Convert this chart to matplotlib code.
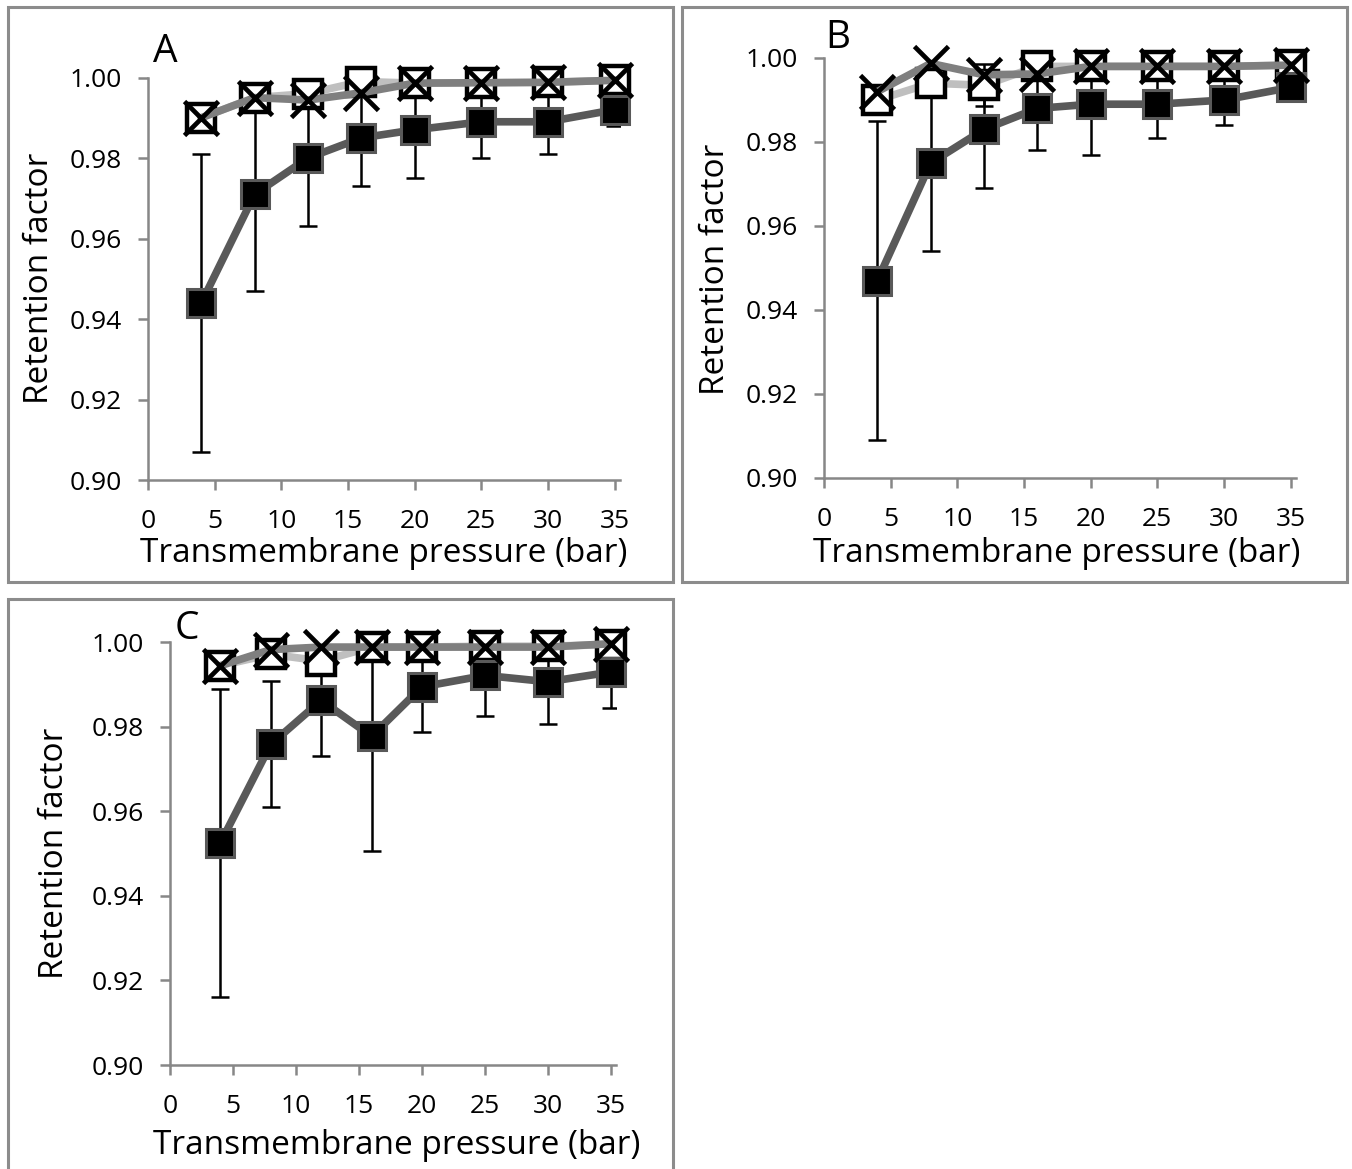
"""
Retention factor vs transmembrane pressure, three panels (A, B, C).
"""

import matplotlib
matplotlib.use("Agg")
import matplotlib.pyplot as plt
from matplotlib.patches import Rectangle

plt.rcParams['font.family'] = ['Open Sans', 'DejaVu Sans']

W, H = 1352, 1169

pressure = [4, 8, 12, 16, 20, 25, 30, 35]
x_ticks = [0, 5, 10, 15, 20, 25, 30, 35]
y_ticks = [0.90, 0.92, 0.94, 0.96, 0.98, 1.00]

# panel A
A_filled = [0.944, 0.971, 0.980, 0.985, 0.987, 0.989, 0.989, 0.992]
A_filled_err = [0.037, 0.024, 0.017, 0.012, 0.012, 0.009, 0.008, 0.004]
A_open = [0.990, 0.995, 0.996, 0.999, 0.9986, 0.9987, 0.9988, 0.9993]
A_open_err = [0.002, 0.002, 0.003, 0.003, 0.002, 0.002, 0.002, 0.001]
A_cross = [0.990, 0.995, 0.9944, 0.9962, 0.9986, 0.9987, 0.9988, 0.9993]

# panel B
B_filled = [0.947, 0.975, 0.983, 0.988, 0.989, 0.989, 0.990, 0.993]
B_filled_err = [0.038, 0.021, 0.014, 0.010, 0.012, 0.008, 0.006, 0.002]
B_open = [0.990, 0.994, 0.9935, 0.998, 0.998, 0.998, 0.998, 0.9983]
B_open_err = [0.002, 0.003, 0.005, 0.003, 0.002, 0.002, 0.002, 0.001]
B_cross = [0.992, 0.9987, 0.996, 0.9962, 0.998, 0.998, 0.998, 0.9983]

# panel C
C_filled = [0.9525, 0.9758, 0.9862, 0.9777, 0.9894, 0.9921, 0.9906, 0.9929]
C_filled_err = [0.0364, 0.0149, 0.0132, 0.0271, 0.0107, 0.0097, 0.0099, 0.0085]
C_open = [0.9944, 0.9971, 0.9955, 0.9988, 0.9988, 0.999, 0.999, 0.9994]
C_open_err = [0.002, 0.002, 0.003, 0.002, 0.002, 0.002, 0.002, 0.001]
C_cross = [0.9944, 0.9982, 0.9988, 0.9988, 0.9988, 0.9988, 0.9988, 0.9996]

GREY_AXIS = '#878787'
GREY_FRAME = '#8c8c8c'


def fx(px):
    return px / W


def fy(py):
    return 1 - py / H


def draw_panel(fig, box, filled, filled_err, opened, open_err, cross, letter,
               letter_xy, xlabel_xy, ylabel_xy):
    x0, y0, x1, y1 = box   # pixel coords of plot area (x of 0 / right end, y of 1.00 / 0.90)
    ax = fig.add_axes([fx(x0), fy(y1), fx(x1 - x0), (y1 - y0) / H])

    # error bars are clipped to the plot area, like the original
    err_kw = dict(fmt='none', ecolor='black', elinewidth=1.8, capsize=6.5,
                  capthick=1.8)
    ax.errorbar(pressure, filled, yerr=filled_err, zorder=1.5, **err_kw)
    ax.errorbar(pressure, opened, yerr=open_err, zorder=1.6, **err_kw)

    ax.plot(pressure, opened, color='#bfbfbf', lw=5.5, marker='s', ms=20,
            mfc='white', mec='black', mew=3.2, zorder=2, clip_on=False)
    ax.plot(pressure, filled, color='#595959', lw=5.5, marker='s', ms=20,
            mfc='black', mec='#595959', mew=2.2, zorder=3, clip_on=False)
    ax.plot(pressure, cross, color='#7f7f7f', lw=5.5, marker='x', ms=25,
            mec='black', mew=3.4, zorder=4, clip_on=False)

    ax.set_xlim(0, 35.4)
    ax.set_ylim(0.90, 1.00)
    ax.set_xticks(x_ticks)
    ax.set_yticks(y_ticks)
    ax.set_yticklabels([f'{v:.2f}' for v in y_ticks])
    for s in ('top', 'right'):
        ax.spines[s].set_visible(False)
    for s in ('left', 'bottom'):
        ax.spines[s].set_color(GREY_AXIS)
        ax.spines[s].set_linewidth(1.8)
    ax.tick_params(axis='both', direction='out', length=7, width=1.8,
                   color=GREY_AXIS, labelsize=19, labelcolor='black')
    ax.tick_params(axis='y', pad=12)
    ax.tick_params(axis='x', pad=14)

    fig.text(fx(letter_xy[0]), fy(letter_xy[1]), letter, fontsize=28,
             ha='center', va='center')
    fig.text(fx(xlabel_xy[0]), fy(xlabel_xy[1]), 'Transmembrane pressure (bar)',
             fontsize=24, ha='center', va='center')
    fig.text(fx(ylabel_xy[0]), fy(ylabel_xy[1]), 'Retention factor',
             fontsize=24, ha='center', va='center', rotation=90)
    return ax


fig = plt.figure(figsize=(W / 100, H / 100), dpi=100)

# panel frames
for (l, t, r, b) in [(8, 7, 673, 582), (682, 7, 1347, 582), (8, 599, 673, 1180)]:
    fig.add_artist(Rectangle((fx(l), fy(b)), fx(r - l), (b - t) / H,
                             transform=fig.transFigure, fill=False,
                             edgecolor=GREY_FRAME, lw=2.2))

draw_panel(fig, (148, 77.5, 620, 480), A_filled, A_filled_err, A_open,
           A_open_err, A_cross, 'A', (165, 52), (384, 553), (40, 278))
draw_panel(fig, (824, 58, 1296, 478), B_filled, B_filled_err, B_open,
           B_open_err, B_cross, 'B', (838, 38), (1057, 554), (715, 269))
draw_panel(fig, (170, 642, 616, 1065), C_filled, C_filled_err, C_open,
           C_open_err, C_cross, 'C', (187, 629), (397, 1145), (55, 853))

fig.savefig('out.png', dpi=100)
